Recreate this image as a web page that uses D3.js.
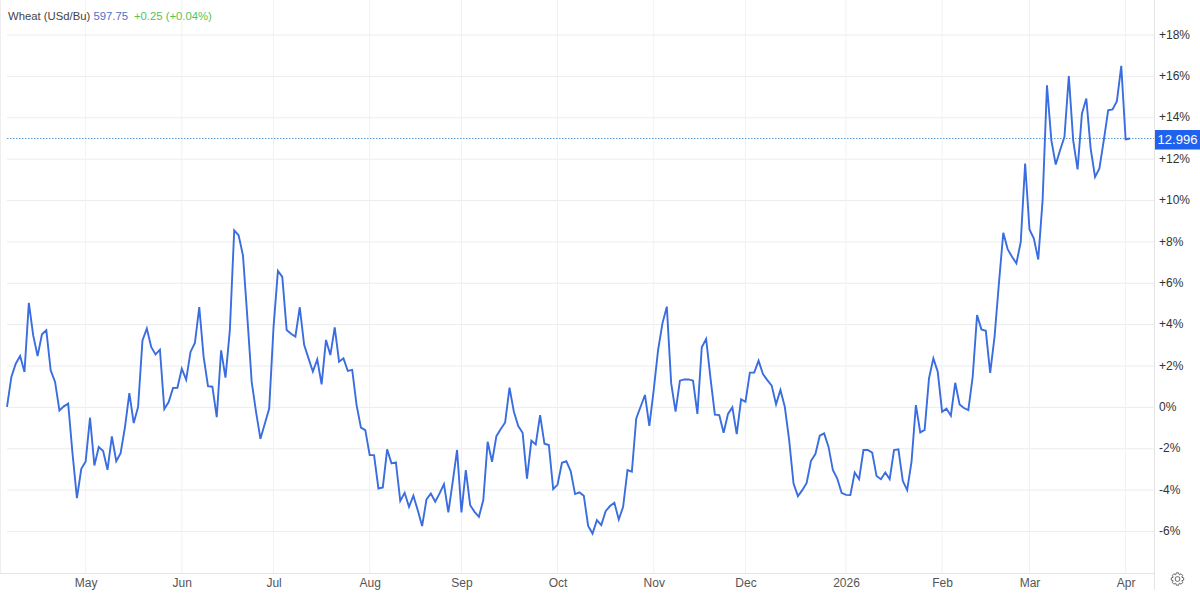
<!DOCTYPE html>
<html>
<head>
<meta charset="utf-8">
<script src="https://cdn.jsdelivr.net/npm/d3@7"></script>
<style>
    html, body { margin: 0; padding: 0; background: #fff; }
    svg { display: block; font-family: "Liberation Sans", Arial, sans-serif; }
    .domain { display: none; }
</style>
</head>
<body>
<div id="chart"></div>
<script>
// % change per trading day
var values = [
    0.02, 1.47, 2.11, 2.48, 1.71, 5.05, 3.48, 2.48, 3.53, 3.73,
    1.79, 1.23, -0.15, 0.05, 0.18, -2.24, -4.39, -2.97, -2.61, -0.50,
    -2.81, -1.92, -2.11, -3.02, -1.40, -2.60, -2.21, -0.95, 0.69, -0.76,
    0.02, 3.24, 3.81, 2.92, 2.56, 2.79, -0.08, 0.26, 0.94, 0.95,
    1.87, 1.34, 2.68, 3.11, 4.85, 2.44, 1.03, 1.00, -0.47, 2.76,
    1.44, 3.73, 8.56, 8.32, 7.35, 4.37, 1.23, -0.23, -1.52, -0.79,
    -0.06, 3.89, 6.60, 6.31, 3.74, 3.56, 3.42, 4.84, 3.02, 2.37,
    1.73, 2.32, 1.11, 3.26, 2.53, 3.87, 2.21, 2.37, 1.76, 1.81,
    0.11, -0.98, -1.10, -2.31, -2.31, -3.92, -3.87, -2.03, -2.71, -2.66,
    -4.52, -4.13, -4.81, -4.27, -4.97, -5.74, -4.45, -4.16, -4.56, -4.16,
    -3.71, -5.08, -3.60, -2.06, -5.08, -3.03, -4.73, -5.05, -5.29, -4.48,
    -1.66, -2.63, -1.39, -1.05, -0.73, 0.95, -0.21, -0.90, -1.23, -3.44,
    -1.61, -1.79, -0.37, -1.76, -1.82, -3.95, -3.73, -2.68, -2.60, -3.08,
    -4.19, -4.11, -4.27, -5.73, -6.10, -5.45, -5.69, -5.02, -4.77, -4.61,
    -5.42, -4.81, -3.03, -3.11, -0.53, 0.03, 0.60, -0.89, 0.84, 2.77,
    4.06, 4.87, 1.16, -0.21, 1.29, 1.35, 1.35, 1.29, -0.32, 2.90,
    3.31, 1.40, -0.35, -0.37, -1.23, -0.32, 0.00, -1.29, 0.39, 0.27,
    1.68, 1.68, 2.26, 1.61, 1.32, 1.05, 0.15, 0.84, 0.03, -1.58,
    -3.68, -4.29, -4.00, -3.65, -2.58, -2.26, -1.37, -1.26, -1.90, -3.03,
    -3.44, -4.13, -4.23, -4.24, -3.15, -3.47, -2.06, -2.06, -2.19, -3.32,
    -3.47, -3.15, -3.47, -2.06, -2.03, -3.55, -4.00, -2.63, 0.11, -1.21,
    -1.09, 1.40, 2.37, 1.72, -0.21, -0.06, -0.40, 1.19, 0.14, -0.03,
    -0.13, 1.48, 4.46, 3.77, 3.70, 1.67, 3.41, 5.99, 8.44, 7.65,
    7.28, 6.96, 8.00, 11.79, 8.60, 8.16, 7.15, 10.02, 15.57, 12.91,
    11.74, 12.43, 13.08, 16.02, 12.91, 11.50, 14.20, 14.93, 12.51, 11.14,
    11.55, 12.91, 14.36, 14.40, 14.80, 16.51, 12.96, 12.996
];
var monthLabels = ["May", "Jun", "Jul", "Aug", "Sep", "Oct", "Nov", "Dec", "2026", "Feb", "Mar", "Apr"];
var monthIndex = [18, 40, 61, 83, 104, 126, 148, 169, 192, 214, 234, 256];
var percentTicks = [-6, -4, -2, 0, 2, 4, 6, 8, 10, 12, 14, 16, 18];
var lastValue = 12.996;

var width = 1200, height = 600;
var axisX = 1154, axisY = 573, plotLeft = 7;

var svg = d3.select("#chart").append("svg")
    .attr("width", width)
    .attr("height", height);

var x = d3.scaleLinear().domain([0, values.length - 1]).range([plotLeft, 1130]);
var y = d3.scaleLinear().domain([-6, 18]).range([531.5, 35]);

// grid
svg.append("g").selectAll("line")
    .data(percentTicks)
  .enter().append("line")
    .attr("x1", plotLeft).attr("x2", axisX)
    .attr("y1", function(d) { return y(d); })
    .attr("y2", function(d) { return y(d); })
    .style("stroke", "#ececec");

svg.append("g").selectAll("line")
    .data(monthIndex)
  .enter().append("line")
    .attr("x1", function(d) { return x(d); })
    .attr("x2", function(d) { return x(d); })
    .attr("y1", 0).attr("y2", axisY)
    .style("stroke", "#f1f1f1");

// frame lines
svg.append("line").attr("x1", 0.5).attr("x2", 0.5).attr("y1", 0).attr("y2", axisY).style("stroke", "#eeeeee");
svg.append("line").attr("x1", 0).attr("x2", axisX).attr("y1", axisY + 0.5).attr("y2", axisY + 0.5).style("stroke", "#e4e4e4");
svg.append("line").attr("x1", axisX + 0.5).attr("x2", axisX + 0.5).attr("y1", 0).attr("y2", 590).style("stroke", "#e4e4e4");

// axes
var yAxis = d3.axisRight(y)
    .tickValues(percentTicks)
    .tickSize(0)
    .tickPadding(0)
    .tickFormat(function(d) { return d > 0 ? "+" + d + "%" : d + "%"; });

svg.append("g")
    .attr("transform", "translate(1159,-0.6)")
    .call(yAxis)
    .call(function(g) {
        g.selectAll("text").style("font-size", "12px").style("fill", "#333");
    });

var xAxis = d3.axisBottom(x)
    .tickValues(monthIndex)
    .tickSize(0)
    .tickPadding(0)
    .tickFormat(function(d, i) { return monthLabels[i]; });

svg.append("g")
    .attr("transform", "translate(0,578)")
    .call(xAxis)
    .call(function(g) {
        g.selectAll("text").style("font-size", "12px").style("fill", "#555");
    });

// last value line, under the series
svg.append("line")
    .attr("x1", plotLeft).attr("x2", axisX)
    .attr("y1", y(lastValue)).attr("y2", y(lastValue))
    .style("stroke", "#5b9bd5")
    .style("stroke-width", 1)
    .style("stroke-dasharray", "1.5,1.5");

// series
var line = d3.line()
    .x(function(d, i) { return x(i); })
    .y(function(d) { return y(d); });

svg.append("path")
    .datum(values)
    .attr("d", line)
    .style("fill", "none")
    .style("stroke", "#3a6ddf")
    .style("stroke-width", 1.9)
    .style("stroke-linejoin", "miter");

// last value tag
svg.append("rect")
    .attr("x", axisX + 1).attr("y", y(lastValue) - 8.5)
    .attr("width", 45).attr("height", 19.5)
    .style("fill", "#1f62ee");

svg.append("text")
    .attr("x", 1177.5).attr("y", y(lastValue) + 5.5)
    .attr("text-anchor", "middle")
    .style("font-size", "13px")
    .style("fill", "#fff")
    .text(lastValue.toFixed(3));

// header
var head = svg.append("text")
    .attr("x", 8).attr("y", 20)
    .style("font-size", "11.3px");
head.append("tspan").style("fill", "#444").text("Wheat (USd/Bu) ");
head.append("tspan").style("fill", "#4a72c0").text("597.75");
head.append("tspan").attr("dx", 6).style("fill", "#55c455").text("+0.25 (+0.04%)");

// settings gear
var gear = d3.path();
var teeth = 8, cx = 1177.5, cy = 579;
for (var t = 0; t < teeth; t++) {
    var a = t / teeth * 2 * Math.PI;
    var s = Math.PI / teeth;
    var pts = [[4.7, a - s * 0.95], [6.3, a - s * 0.45], [6.3, a + s * 0.45], [4.7, a + s * 0.95]];
    pts.forEach(function(p, k) {
        var px = cx + p[0] * Math.cos(p[1]), py = cy + p[0] * Math.sin(p[1]);
        if (t === 0 && k === 0) gear.moveTo(px, py); else gear.lineTo(px, py);
    });
}
gear.closePath();
svg.append("path").attr("d", gear.toString()).style("fill", "none").style("stroke", "#666").style("stroke-width", 1);
svg.append("circle").attr("cx", cx).attr("cy", cy).attr("r", 2.4).style("fill", "none").style("stroke", "#666").style("stroke-width", 1);
</script>
</body>
</html>
